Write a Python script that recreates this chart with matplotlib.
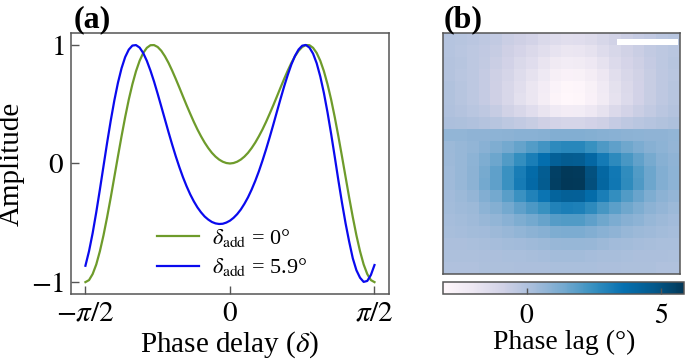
import numpy as np
import matplotlib
matplotlib.use("Agg")
import matplotlib.pyplot as plt
from matplotlib.patches import Rectangle

plt.rcParams["font.family"] = ["Liberation Serif", "DejaVu Serif"]
plt.rcParams["mathtext.fontset"] = "stix"

# (a) amplitude vs phase delay, sampled every 2.25 degrees
delay_deg = [-90, -87.75, -85.5, -83.25, -81, -78.75, -76.5, -74.25, -72, -69.75,
             -67.5, -65.25, -63, -60.75, -58.5, -56.25, -54, -51.75, -49.5, -47.25,
             -45, -42.75, -40.5, -38.25, -36, -33.75, -31.5, -29.25, -27, -24.75,
             -22.5, -20.25, -18, -15.75, -13.5, -11.25, -9, -6.75, -4.5, -2.25,
             0,
             2.25, 4.5, 6.75, 9, 11.25, 13.5, 15.75, 18, 20.25, 22.5,
             24.75, 27, 29.25, 31.5, 33.75, 36, 38.25, 40.5, 42.75, 45,
             47.25, 49.5, 51.75, 54, 56.25, 58.5, 60.75, 63, 65.25, 67.5,
             69.75, 72, 74.25, 76.5, 78.75, 81, 83.25, 85.5, 87.75, 90]

amp_add0 = [-1.0, -0.983, -0.932, -0.851, -0.74, -0.606, -0.453, -0.288, -0.114, 0.06,
            0.23, 0.391, 0.539, 0.668, 0.778, 0.866, 0.932, 0.975, 0.997, 0.998,
            0.982, 0.95, 0.904, 0.848, 0.783, 0.713, 0.64, 0.565, 0.491, 0.42,
            0.351, 0.287, 0.229, 0.176, 0.13, 0.09, 0.058, 0.033, 0.015, 0.004,
            0.0,
            0.004, 0.015, 0.033, 0.058, 0.09, 0.13, 0.176, 0.229, 0.287, 0.351,
            0.42, 0.491, 0.565, 0.64, 0.713, 0.783, 0.848, 0.904, 0.95, 0.982,
            0.998, 0.997, 0.975, 0.932, 0.866, 0.778, 0.668, 0.539, 0.391, 0.23,
            0.06, -0.114, -0.288, -0.453, -0.606, -0.74, -0.851, -0.932, -0.983, -1.0]

amp_add59 = [-0.862, -0.739, -0.587, -0.411, -0.22, -0.023, 0.174, 0.36, 0.531, 0.68,
             0.803, 0.897, 0.96, 0.994, 0.998, 0.977, 0.931, 0.865, 0.783, 0.69,
             0.587, 0.48, 0.372, 0.264, 0.16, 0.061, -0.031, -0.116, -0.192, -0.26,
             -0.319, -0.37, -0.412, -0.447, -0.473, -0.493, -0.505, -0.51, -0.508, -0.498,
             -0.482,
             -0.458, -0.427, -0.388, -0.34, -0.285, -0.22, -0.147, -0.066, 0.024, 0.12,
             0.222, 0.328, 0.437, 0.545, 0.65, 0.747, 0.835, 0.907, 0.961, 0.993,
             0.999, 0.977, 0.926, 0.845, 0.733, 0.594, 0.431, 0.25, 0.057, -0.141,
             -0.33, -0.505, -0.66, -0.8, -0.9, -0.963, -0.998, -0.99, -0.94, -0.856]

# (b) phase lag map (degrees), 20 x 20 pixels
phase_lag = [
    [-0.15, -0.2, -0.3, -0.4, -0.5, -0.7, -0.85, -1.0, -1.25, -1.45, -1.55, -1.5, -1.4, -1.15, -0.9, -0.75, -0.55, -0.45, -0.3, -0.2],
    [-0.15, -0.25, -0.35, -0.45, -0.6, -0.85, -1.05, -1.3, -1.55, -1.8, -1.95, -1.9, -1.75, -1.45, -1.15, -0.9, -0.7, -0.5, -0.35, -0.25],
    [-0.1, -0.2, -0.35, -0.5, -0.7, -0.95, -1.25, -1.5, -1.85, -2.2, -2.35, -2.3, -2.1, -1.75, -1.35, -1.05, -0.8, -0.55, -0.35, -0.2],
    [-0.1, -0.25, -0.35, -0.55, -0.8, -1.1, -1.45, -1.75, -2.15, -2.55, -2.75, -2.7, -2.45, -2.05, -1.55, -1.2, -0.9, -0.65, -0.4, -0.25],
    [-0.05, -0.2, -0.35, -0.55, -0.85, -1.2, -1.55, -1.95, -2.4, -2.85, -3.05, -3.0, -2.7, -2.25, -1.7, -1.3, -0.95, -0.65, -0.4, -0.2],
    [-0.05, -0.2, -0.35, -0.55, -0.85, -1.2, -1.6, -1.95, -2.45, -2.9, -3.1, -3.05, -2.75, -2.3, -1.75, -1.35, -0.95, -0.65, -0.4, -0.2],
    [0.0, -0.1, -0.25, -0.4, -0.6, -0.9, -1.2, -1.5, -1.85, -2.25, -2.4, -2.35, -2.1, -1.75, -1.3, -1.0, -0.7, -0.5, -0.3, -0.1],
    [0.1, 0.05, 0.0, -0.1, -0.2, -0.35, -0.5, -0.65, -0.85, -1.0, -1.1, -1.1, -0.95, -0.8, -0.55, -0.4, -0.25, -0.15, -0.05, 0.05],
    [0.7, 0.7, 0.75, 0.75, 0.8, 0.85, 0.9, 0.9, 0.95, 1.05, 1.05, 1.05, 1.0, 0.95, 0.9, 0.85, 0.8, 0.75, 0.75, 0.7],
    [0.5, 0.6, 0.7, 0.9, 1.1, 1.35, 1.65, 1.95, 2.25, 2.7, 2.8, 2.8, 2.45, 2.05, 1.75, 1.45, 1.2, 0.95, 0.8, 0.65],
    [0.45, 0.6, 0.8, 1.15, 1.5, 2.0, 2.55, 3.1, 3.65, 4.4, 4.6, 4.55, 4.0, 3.25, 2.7, 2.15, 1.7, 1.3, 0.95, 0.75],
    [0.4, 0.6, 0.85, 1.3, 1.75, 2.4, 3.15, 3.85, 4.55, 5.55, 5.8, 5.75, 5.0, 4.05, 3.3, 2.6, 2.0, 1.5, 1.05, 0.8],
    [0.4, 0.6, 0.85, 1.35, 1.75, 2.4, 3.2, 3.9, 4.6, 5.6, 5.85, 5.8, 5.05, 4.1, 3.35, 2.65, 2.05, 1.5, 1.05, 0.8],
    [0.35, 0.5, 0.65, 1.05, 1.35, 1.85, 2.4, 2.95, 3.45, 4.2, 4.4, 4.35, 3.8, 3.1, 2.55, 2.0, 1.55, 1.15, 0.85, 0.65],
    [0.3, 0.4, 0.5, 0.8, 1.0, 1.35, 1.75, 2.1, 2.45, 2.95, 3.1, 3.05, 2.7, 2.2, 1.8, 1.45, 1.15, 0.85, 0.65, 0.5],
    [0.25, 0.3, 0.4, 0.55, 0.7, 0.9, 1.15, 1.35, 1.6, 1.9, 2.0, 2.0, 1.75, 1.45, 1.2, 0.95, 0.8, 0.6, 0.45, 0.35],
    [0.2, 0.25, 0.3, 0.35, 0.45, 0.55, 0.7, 0.85, 0.95, 1.15, 1.2, 1.2, 1.05, 0.9, 0.75, 0.6, 0.5, 0.4, 0.3, 0.25],
    [0.1, 0.1, 0.15, 0.2, 0.25, 0.3, 0.35, 0.4, 0.5, 0.55, 0.6, 0.6, 0.55, 0.45, 0.35, 0.3, 0.25, 0.2, 0.15, 0.15],
    [0.05, 0.05, 0.05, 0.1, 0.1, 0.15, 0.15, 0.2, 0.25, 0.3, 0.3, 0.3, 0.25, 0.2, 0.2, 0.15, 0.1, 0.1, 0.1, 0.05],
    [0.0, 0.0, 0.0, 0.05, 0.05, 0.05, 0.1, 0.1, 0.1, 0.15, 0.15, 0.15, 0.15, 0.1, 0.1, 0.05, 0.05, 0.05, 0.0, 0.0],
]

edge = "#555555"

fig = plt.figure(figsize=(6.85, 3.59), dpi=100)

# ---- panel (a)
ax = fig.add_axes([0.1036, 0.1811, 0.4642, 0.7270])
delta = np.deg2rad(delay_deg)
ax.plot(delta, amp_add0, color="#6e9b2b", lw=1.6, label=r"$\delta_{\mathrm{add}}$ = 0°")
ax.plot(delta, amp_add59, color="#0a0aee", lw=1.6, label=r"$\delta_{\mathrm{add}}$ = 5.9°")
ax.set_xlim(-1.1 * np.pi / 2, 1.1 * np.pi / 2)
ax.set_ylim(-1.1, 1.1)
ax.set_xticks([-np.pi / 2, 0, np.pi / 2])
ax.set_xticklabels([r"$-\pi/2$", r"$0$", r"$\pi/2$"])
ax.set_yticks([-1, 0, 1])
ax.set_yticklabels([r"$-1$", r"$0$", r"$1$"])
ax.tick_params(direction="in", length=6, width=1, color=edge, labelsize=21, pad=5)
for s in ax.spines.values():
    s.set_color(edge)
    s.set_linewidth(1.1)
ax.set_xlabel(r"Phase delay ($\delta$)", fontsize=21, labelpad=2)
ax.set_ylabel("Amplitude", fontsize=21, labelpad=4)
ax.legend(loc="lower left", bbox_to_anchor=(0.272, 0.06), frameon=False,
          fontsize=16, handlelength=1.85, handletextpad=0.6, labelspacing=0.35,
          borderpad=0, borderaxespad=0)
fig.text(0.107, 0.925, "(a)", fontsize=23, fontweight="bold")

# ---- panel (b)
axm = fig.add_axes([0.6474, 0.2368, 0.3453, 0.6713])
im = axm.imshow(np.array(phase_lag), cmap="PuBu", vmin=-3.1, vmax=5.85,
                aspect="auto", interpolation="nearest")
axm.set_xticks([])
axm.set_yticks([])
for s in axm.spines.values():
    s.set_color(edge)
    s.set_linewidth(1.1)
axm.add_patch(Rectangle((0.734, 0.951), 0.258, 0.026, transform=axm.transAxes,
                        facecolor="white", edgecolor="none"))
fig.text(0.648, 0.925, "(b)", fontsize=23, fontweight="bold")

cax = fig.add_axes([0.6474, 0.1811, 0.3511, 0.0334])
cb = fig.colorbar(im, cax=cax, orientation="horizontal", ticks=[0, 5])
cb.ax.set_xticklabels([r"$0$", r"$5$"])
cb.ax.tick_params(direction="in", length=4, width=1, color=edge, labelsize=20, pad=7)
cb.outline.set_edgecolor(edge)
cb.outline.set_linewidth(1.1)
cb.set_label("Phase lag (°)", fontsize=20, labelpad=1)

fig.savefig("out.png", dpi=100)
